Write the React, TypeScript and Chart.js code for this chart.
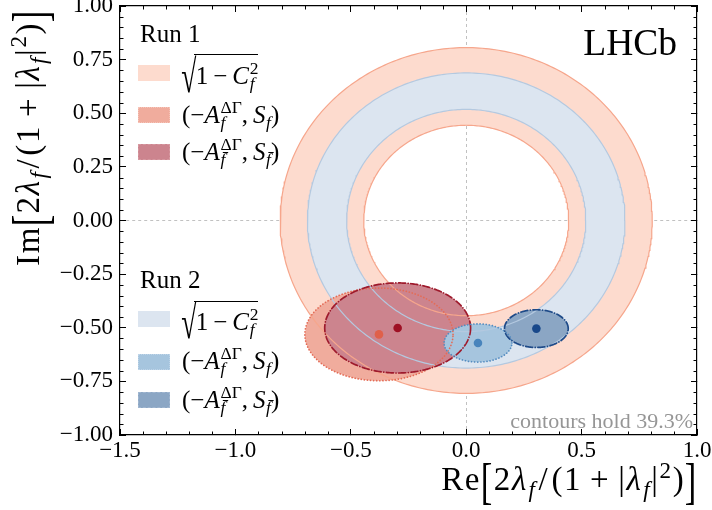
import React, { useEffect, useRef } from 'react';
import { Chart, registerables } from 'chart.js';

Chart.register(...registerables);

// ---------------- data ----------------
const X_MIN = -1.5;
const X_MAX = 1.0;
const Y_MIN = -1.0;
const Y_MAX = 1.0;
const X_TICKS = [-1.5, -1.0, -0.5, 0.0, 0.5, 1.0];
const Y_TICKS = [-1.0, -0.75, -0.5, -0.25, 0.0, 0.25, 0.5, 0.75, 1.0];
const X_MINOR_STEP = 0.1;
const Y_MINOR_STEP = 0.05;

// sqrt(1 - C_f^2) bands (central value, half width) for Run 1, Run 2
const RUNS = ['Run 1', 'Run 2'];
const BAND_CENTRAL = [0.625, 0.603];
const BAND_HALF_WIDTH = [0.181, 0.085];

// (-A^ΔΓ, S) contours: Run1 f, Run1 fbar, Run2 f, Run2 fbar
const CONTOUR_RE = [-0.378, -0.297, 0.051, 0.304];
const CONTOUR_IM = [-0.531, -0.501, -0.571, -0.504];
const CONTOUR_SIGMA_RE = [0.321, 0.316, 0.147, 0.138];
const CONTOUR_SIGMA_IM = [0.216, 0.210, 0.089, 0.088];

// ---------------- styles ----------------
const SERIF = '"Liberation Serif", "DejaVu Serif", "Times New Roman", serif';
const BAND_FILL = ['rgb(253,219,206)', 'rgb(220,229,240)'];
const BAND_EDGE = ['rgb(246,166,140)', 'rgb(180,201,224)'];
const CONTOUR_FILL = ['rgb(240,172,157)', 'rgb(204,132,142)', 'rgb(166,197,222)', 'rgb(139,166,196)'];
const CONTOUR_EDGE = ['rgb(228,108,86)', 'rgb(158,26,44)', 'rgb(84,140,192)', 'rgb(30,74,136)'];
const CONTOUR_DOT = ['rgb(224,96,74)', 'rgb(158,16,36)', 'rgb(72,132,188)', 'rgb(25,72,138)'];
const CONTOUR_DASH = [[0.1, 3], [7, 2.6, 0.1, 2.6], [0.1, 3], [7, 2.6, 0.1, 2.6]];

const NPTS = 360;
function ellipsePoints(cx: number, cy: number, rx: number, ry: number, reverse = false) {
  const pts: { x: number; y: number }[] = [];
  for (let i = 0; i <= NPTS; i++) {
    const t = ((reverse ? NPTS - i : i) / NPTS) * 2 * Math.PI;
    pts.push({ x: cx + rx * Math.cos(t), y: cy + ry * Math.sin(t) });
  }
  return pts;
}

function minorValues(min: number, max: number, step: number, majors: number[]) {
  const out: number[] = [];
  const n = Math.round((max - min) / step);
  for (let i = 1; i < n; i++) {
    const v = min + i * step;
    if (!majors.some((m) => Math.abs(m - v) < 1e-6)) out.push(v);
  }
  return out;
}

const fmt = (v: number, d: number) => (v < -1e-9 ? '\u2212' : '') + Math.abs(v).toFixed(d);

const minorTickPlugin = {
  id: 'minorTicks',
  afterDraw(chart: any) {
    const { ctx, chartArea: a, scales } = chart;
    const xs = scales.x;
    const ys = scales.y;
    ctx.save();
    ctx.strokeStyle = '#000';
    ctx.lineWidth = 1;
    ctx.beginPath();
    for (const v of minorValues(X_MIN, X_MAX, X_MINOR_STEP, X_TICKS)) {
      const px = Math.round(xs.getPixelForValue(v)) + 0.5;
      ctx.moveTo(px, a.bottom);
      ctx.lineTo(px, a.bottom - 3.5);
      ctx.moveTo(px, a.top);
      ctx.lineTo(px, a.top + 3.5);
    }
    for (const v of minorValues(Y_MIN, Y_MAX, Y_MINOR_STEP, Y_TICKS)) {
      const py = Math.round(ys.getPixelForValue(v)) + 0.5;
      ctx.moveTo(a.left, py);
      ctx.lineTo(a.left + 3.5, py);
      ctx.moveTo(a.right, py);
      ctx.lineTo(a.right - 3.5, py);
    }
    ctx.stroke();
    ctx.restore();
  },
};

function buildDatasets() {
  const base = {
    borderWidth: 0,
    borderColor: 'rgba(0,0,0,0)',
    backgroundColor: 'rgba(0,0,0,0)',
    pointRadius: 0,
    pointHoverRadius: 0,
    fill: false,
    tension: 0,
  };
  const layers: any[] = [];
  RUNS.forEach((_, i) => {
    const rOut = BAND_CENTRAL[i] + BAND_HALF_WIDTH[i];
    const rIn = BAND_CENTRAL[i] - BAND_HALF_WIDTH[i];
    layers.push({
      ...base,
      data: [...ellipsePoints(0, 0, rOut, rOut), ...ellipsePoints(0, 0, rIn, rIn, true)],
      fill: 'shape',
      backgroundColor: BAND_FILL[i],
    });
  });
  CONTOUR_RE.forEach((cx, i) => {
    layers.push({
      ...base,
      data: ellipsePoints(cx, CONTOUR_IM[i], CONTOUR_SIGMA_RE[i], CONTOUR_SIGMA_IM[i]),
      fill: 'shape',
      backgroundColor: CONTOUR_FILL[i],
    });
  });
  RUNS.forEach((_, i) => {
    const rOut = BAND_CENTRAL[i] + BAND_HALF_WIDTH[i];
    const rIn = BAND_CENTRAL[i] - BAND_HALF_WIDTH[i];
    [rOut, rIn].forEach((r) => {
      layers.push({ ...base, data: ellipsePoints(0, 0, r, r), borderWidth: 1.2, borderColor: BAND_EDGE[i] });
    });
  });
  CONTOUR_RE.forEach((cx, i) => {
    layers.push({
      ...base,
      data: ellipsePoints(cx, CONTOUR_IM[i], CONTOUR_SIGMA_RE[i], CONTOUR_SIGMA_IM[i]),
      borderWidth: 1.7,
      borderColor: CONTOUR_EDGE[i],
      borderDash: CONTOUR_DASH[i],
      borderCapStyle: 'round',
    });
  });
  layers.push({
    ...base,
    data: CONTOUR_RE.map((x, i) => ({ x, y: CONTOUR_IM[i] })),
    showLine: false,
    pointRadius: 4.3,
    pointBorderWidth: 0,
    pointBackgroundColor: CONTOUR_DOT,
    pointBorderColor: CONTOUR_DOT,
  });
  const n = layers.length;
  return layers.map((d, i) => ({ ...d, order: n - i }));
}

const zeroGrid = (c: any) => (c.tick && Math.abs(c.tick.value) < 1e-9 ? 'rgba(170,170,170,0.9)' : 'rgba(0,0,0,0)');
const noPad = (s: any) => {
  s.paddingLeft = 0;
  s.paddingRight = 0;
  s.paddingTop = 0;
  s.paddingBottom = 0;
};

function buildConfig(): any {
  const tickFont = { family: SERIF, size: 23 };
  return {
    type: 'line',
    data: { datasets: buildDatasets() },
    plugins: [minorTickPlugin],
    options: {
      animation: false,
      responsive: false,
      maintainAspectRatio: false,
      events: [],
      layout: { padding: { left: 0, right: 15, top: 6, bottom: 0 } },
      plugins: { legend: { display: false }, tooltip: { enabled: false }, title: { display: false } },
      scales: {
        x: {
          type: 'linear',
          position: 'bottom',
          min: X_MIN,
          max: X_MAX,
          afterBuildTicks: (s: any) => {
            s.ticks = X_TICKS.map((value) => ({ value }));
          },
          afterFit: (s: any) => {
            s.height = 75;
            noPad(s);
          },
          ticks: { callback: (v: number) => fmt(v, 1), font: tickFont, color: '#000', padding: 8, maxRotation: 0, autoSkip: false },
          grid: { drawOnChartArea: true, color: zeroGrid, lineWidth: 0.8, tickLength: -6, tickColor: '#000', tickWidth: 1 },
          border: { display: true, color: '#000', width: 1.2, dash: [3, 3] },
        },
        y: {
          type: 'linear',
          position: 'left',
          min: Y_MIN,
          max: Y_MAX,
          afterBuildTicks: (s: any) => {
            s.ticks = Y_TICKS.map((value) => ({ value }));
          },
          afterFit: (s: any) => {
            s.width = 120;
            noPad(s);
          },
          ticks: { callback: (v: number) => fmt(v, 2), font: tickFont, color: '#000', padding: 13, autoSkip: false },
          grid: { drawOnChartArea: true, color: zeroGrid, lineWidth: 0.8, tickLength: -6, tickColor: '#000', tickWidth: 1 },
          border: { display: true, color: '#000', width: 1.2, dash: [3, 3] },
        },
        x2: {
          type: 'linear',
          position: 'top',
          min: X_MIN,
          max: X_MAX,
          afterBuildTicks: (s: any) => {
            s.ticks = X_TICKS.map((value) => ({ value }));
          },
          afterFit: (s: any) => {
            s.height = 0;
            noPad(s);
          },
          ticks: { display: false },
          grid: { drawOnChartArea: false, tickLength: -6, tickColor: '#000', tickWidth: 1, color: 'rgba(0,0,0,0)' },
          border: { display: true, color: '#000', width: 1.2 },
        },
        y2: {
          type: 'linear',
          position: 'right',
          min: Y_MIN,
          max: Y_MAX,
          afterBuildTicks: (s: any) => {
            s.ticks = Y_TICKS.map((value) => ({ value }));
          },
          afterFit: (s: any) => {
            s.width = 0;
            noPad(s);
          },
          ticks: { display: false },
          grid: { drawOnChartArea: false, tickLength: -6, tickColor: '#000', tickWidth: 1, color: 'rgba(0,0,0,0)' },
          border: { display: true, color: '#000', width: 1.2 },
        },
      },
    },
  };
}

// ---------------- math-ish text helpers ----------------
const It = ({ children }: any) => <span style={{ fontStyle: 'italic' }}>{children}</span>;
const Sup = ({ children }: any) => (
  <span style={{ position: 'relative', top: '-0.55em', fontSize: '0.7em' }}>{children}</span>
);
const Sub = ({ children }: any) => (
  <span style={{ position: 'relative', top: '0.3em', fontSize: '0.7em', fontStyle: 'italic', marginLeft: '0.03em' }}>
    {children}
  </span>
);
const SupSub = ({ sup, sub }: any) => (
  <span style={{ position: 'relative', fontSize: '0.7em', marginLeft: '0.04em' }}>
    <span style={{ position: 'relative', top: '-0.55em' }}>{sup}</span>
    <span style={{ position: 'absolute', left: 0, top: '0.42em', fontStyle: 'italic' }}>{sub}</span>
  </span>
);
const BigB = ({ children }: any) => (
  <span style={{ display: 'inline-block', transform: 'translateY(0.08em) scale(1.05,1.55)', transformOrigin: '50% 55%' }}>
    {children}
  </span>
);
const Op = ({ children, m = '0.2em' }: any) => <span style={{ margin: `0 ${m}` }}>{children}</span>;
const FBAR = 'f\u0304';

const AxisExpr = ({ prefix }: { prefix: string }) => (
  <span style={{ letterSpacing: '0.05em' }}>
    {prefix}
    <BigB>[</BigB>2<It>λ</It>
    <Sub>f</Sub>
    <Op m="0.06em">/</Op>(1<Op m="0.24em">+</Op>|<It>λ</It>
    <Sub>f</Sub>|<Sup>2</Sup>)<BigB>]</BigB>
  </span>
);

const LEG_FS = 25;
const TITLE_FS = 33;
const BASE_K = 0.8375; // baseline offset for line-height 1

const TextAt = ({ left, right, baseline, fs, color = '#000', children }: any) => (
  <div
    style={{
      position: 'absolute',
      left,
      right,
      top: baseline - BASE_K * fs,
      fontSize: fs,
      lineHeight: 1,
      whiteSpace: 'nowrap',
      color,
      fontFamily: SERIF,
    }}
  >
    {children}
  </div>
);

const Patch = ({ center, bg, border }: any) => (
  <div
    style={{
      position: 'absolute',
      left: 138,
      top: center - 8,
      width: 32,
      height: 16,
      background: bg,
      boxSizing: 'border-box',
      border: border || 'none',
    }}
  />
);

const SqrtLabel = () => (
  <>
    <span style={{ display: 'inline-block', transform: 'scale(1.1,1.85)', transformOrigin: '50% 46%' }}>√</span>
    <span style={{ position: 'relative' }}>
      <span style={{ position: 'absolute', left: '-0.05em', right: 0, top: '-0.3em', borderTop: '1.2px solid #000' }} />
      1<Op m="0.2em">−</Op>
      <It>C</It>
      <SupSub sup="2" sub="f" />
    </span>
  </>
);
const PairLabel = ({ f }: { f: string }) => (
  <>
    (−<It>A</It>
    <SupSub sup="ΔΓ" sub={f} />,{'\u2009'}
    <It>S</It>
    <Sub>{f}</Sub>)
  </>
);

const LegendBlock = ({ title, titleBase, centers, colors }: any) => (
  <>
    <TextAt left={140} baseline={titleBase} fs={LEG_FS}>
      {title}
    </TextAt>
    <Patch center={centers[0]} bg={colors[0]} />
    <Patch center={centers[1]} bg={colors[1]} border={`1.5px dotted ${colors[4]}`} />
    <Patch center={centers[2]} bg={colors[2]} border={`1.5px dashed ${colors[5]}`} />
    <TextAt left={182} baseline={centers[0] + 11} fs={LEG_FS}>
      <SqrtLabel />
    </TextAt>
    <TextAt left={182} baseline={centers[1] + 7.5} fs={LEG_FS}>
      <PairLabel f="f" />
    </TextAt>
    <TextAt left={182} baseline={centers[2] + 7.5} fs={LEG_FS}>
      <PairLabel f={FBAR} />
    </TextAt>
  </>
);

export default function App() {
  const ref = useRef<HTMLCanvasElement>(null);
  useEffect(() => {
    const canvas = ref.current;
    if (!canvas) return;
    const chart = new Chart(canvas, buildConfig());
    let alive = true;
    const fonts: any = (document as any).fonts;
    if (fonts && fonts.load) {
      fonts.load(`23px ${SERIF}`).then(() => {
        if (alive) chart.update();
      });
    }
    return () => {
      alive = false;
      chart.destroy();
    };
  }, []);

  return (
    <div
      style={{
        position: 'absolute',
        left: 0,
        top: 0,
        width: 712,
        height: 510,
        background: '#fff',
        fontFamily: SERIF,
        color: '#000',
        overflow: 'hidden',
      }}
    >
      <canvas ref={ref} width={712} height={510} style={{ display: 'block', width: 712, height: 510 }} />

      <LegendBlock
        title={RUNS[0]}
        titleBase={41.7}
        centers={[72.5, 115, 152]}
        colors={[BAND_FILL[0], CONTOUR_FILL[0], CONTOUR_FILL[1], BAND_FILL[0], 'rgb(246,196,184)', 'rgb(214,152,160)']}
      />
      <LegendBlock
        title={RUNS[1]}
        titleBase={288}
        centers={[319, 361.5, 400]}
        colors={[BAND_FILL[1], CONTOUR_FILL[2], CONTOUR_FILL[3], BAND_FILL[1], 'rgb(190,212,232)', 'rgb(160,182,208)']}
      />

      <TextAt right={35} baseline={55} fs={37.5}>
        LHCb
      </TextAt>
      <TextAt right={19} baseline={428} fs={22} color="rgb(150,150,150)">
        contours hold 39.3%
      </TextAt>

      <TextAt right={14} baseline={491} fs={TITLE_FS}>
        <AxisExpr prefix="Re" />
      </TextAt>

      <div
        style={{
          position: 'absolute',
          left: 40 - BASE_K * TITLE_FS,
          top: 266,
          width: 400,
          transformOrigin: '0 0',
          transform: 'rotate(-90deg)',
          textAlign: 'left',
          fontSize: TITLE_FS,
          lineHeight: 1,
          whiteSpace: 'nowrap',
          fontFamily: SERIF,
        }}
      >
        <AxisExpr prefix="Im" />
      </div>
    </div>
  );
}
